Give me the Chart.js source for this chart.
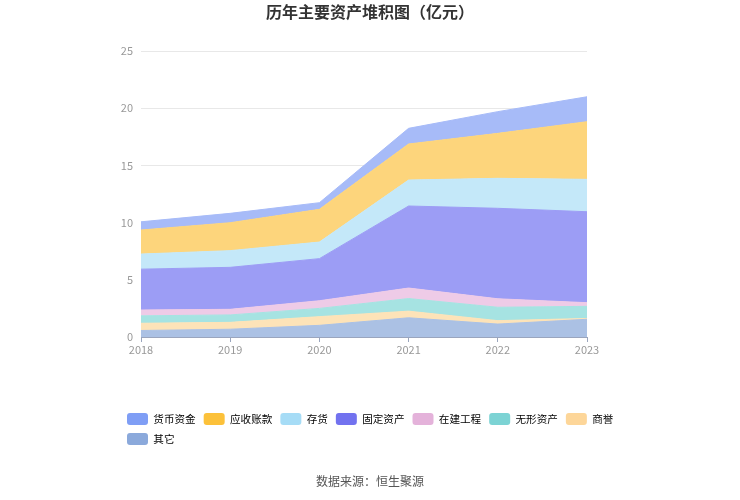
<!DOCTYPE html>
<html>
<head>
<meta charset="utf-8">
<script src="https://cdn.jsdelivr.net/npm/chart.js@4.4.1/dist/chart.umd.min.js"></script>
<style>
  html, body { margin: 0; padding: 0; background: #fff; }
  canvas { display: block; }
</style>
</head>
<body>
<canvas id="assetChart" width="740" height="500"></canvas>
<script>
// years on the x axis
const years = ["2018", "2019", "2020", "2021", "2022", "2023"];

// values in 亿元, bottom of the stack first
const other        = [0.57, 0.68, 1.02, 1.68, 1.13, 1.55];
const goodwill     = [0.63, 0.60, 0.76, 0.58, 0.30, 0.07];
const intangible   = [0.65, 0.65, 0.72, 1.10, 1.17, 1.06];
const construction = [0.51, 0.49, 0.67, 0.92, 0.74, 0.32];
const fixedAssets  = [3.57, 3.67, 3.68, 7.17, 7.91, 7.95];
const inventory    = [1.32, 1.46, 1.45, 2.27, 2.62, 2.83];
const receivables  = [2.10, 2.44, 2.86, 3.15, 3.93, 5.04];
const cash         = [0.72, 0.82, 0.58, 1.37, 1.90, 2.18];

const yTicks = [0, 5, 10, 15, 20, 25];

const cjk = '"Noto Sans CJK SC", "Noto Sans", sans-serif';

function area(label, data, fill, solid, idx) {
    return {
        label: label,
        data: data,
        backgroundColor: fill,
        borderColor: fill,
        borderWidth: 1,
        legendColor: solid,
        pointRadius: 0,
        pointHoverRadius: 0,
        tension: 0,
        fill: idx === 0 ? "origin" : "-1"
    };
}

const datasets = [
    area("其它", other, "#abc1e4", "#8ba9db", 0),
    area("商誉", goodwill, "#fde3b8", "#fdd699", 1),
    area("无形资产", intangible, "#a6e3e2", "#7cd3d4", 2),
    area("在建工程", construction, "#eecbe7", "#e4b2da", 3),
    area("固定资产", fixedAssets, "#9c9df5", "#7272ef", 4),
    area("存货", inventory, "#c4e8f9", "#a6dcf6", 5),
    area("应收账款", receivables, "#fdd57c", "#fcc13a", 6),
    area("货币资金", cash, "#a7bbf8", "#7f9ef5", 7)
];

// title and source line are centred on the whole canvas
const textPlugin = {
    id: "pageText",
    afterDraw(chart) {
        const c = chart.ctx;
        c.save();
        c.textAlign = "center";
        c.textBaseline = "middle";
        c.fillStyle = "#333";
        c.font = "bold 16px " + cjk;
        c.fillText("历年主要资产堆积图（亿元）", chart.width / 2, 12);
        c.fillStyle = "#555";
        c.font = "12px " + cjk;
        c.fillText("数据来源：恒生聚源", chart.width / 2, 481);
        c.restore();
    }
};

const ctx = document.getElementById("assetChart").getContext("2d");
const myChart = new Chart(ctx, {
    type: "line",
    data: { labels: years, datasets: datasets },
    plugins: [textPlugin],
    options: {
        responsive: false,
        animation: false,
        layout: { padding: { left: 119, right: 91, top: 51, bottom: 45 } },
        plugins: {
            title: { display: false },
            tooltip: { enabled: false },
            legend: {
                position: "bottom",
                align: "start",
                reverse: true,
                labels: {
                    boxWidth: 21,
                    boxHeight: 12,
                    padding: 8,
                    useBorderRadius: true,
                    borderRadius: 3,
                    color: "#555",
                    font: { size: 10.6, family: cjk },
                    generateLabels(chart) {
                        return chart.data.datasets.map((ds, i) => ({
                            text: ds.label,
                            fillStyle: ds.legendColor,
                            strokeStyle: ds.legendColor,
                            lineWidth: 0,
                            hidden: !chart.isDatasetVisible(i),
                            datasetIndex: i,
                            borderRadius: 3
                        }));
                    }
                }
            }
        },
        scales: {
            x: {
                grid: { drawOnChartArea: false, drawTicks: true, tickLength: 5, color: "#9aa5bd" },
                border: { display: true, color: "#9aa5bd" },
                ticks: { color: "#999", font: { size: 11, family: cjk }, padding: 1, maxRotation: 0 },
                afterFit(scale) { scale.height = 68; }
            },
            y: {
                stacked: true,
                min: 0,
                max: 25,
                afterBuildTicks(scale) { scale.ticks = yTicks.map(v => ({ value: v })); },
                grid: { color: "#e8e8e8", drawTicks: false },
                border: { display: false },
                ticks: { color: "#999", font: { size: 11, family: cjk }, padding: 8 },
                afterFit(scale) { scale.width = 22; }
            },
            yRight: {
                position: "right",
                display: true,
                grid: { display: false },
                border: { display: false },
                ticks: { display: false },
                afterFit(scale) { scale.width = 62; }
            }
        }
    }
});
</script>
</body>
</html>
